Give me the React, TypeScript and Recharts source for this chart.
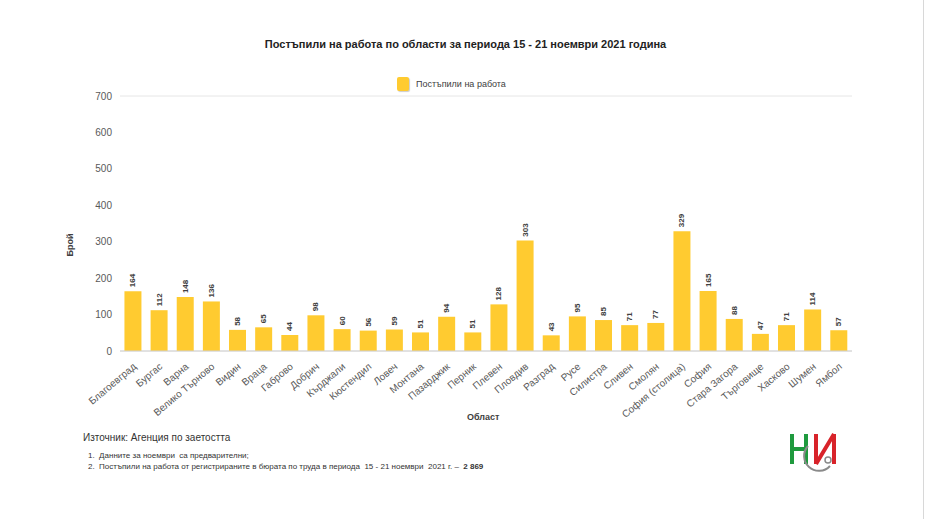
import React from 'react';
import { BarChart, Bar, XAxis, YAxis, CartesianGrid, LabelList } from 'recharts';

const regions = [
  'Благоевград', 'Бургас', 'Варна', 'Велико Търново', 'Видин', 'Враца', 'Габрово',
  'Добрич', 'Кърджали', 'Кюстендил', 'Ловеч', 'Монтана', 'Пазарджик', 'Перник',
  'Плевен', 'Пловдив', 'Разград', 'Русе', 'Силистра', 'Сливен', 'Смолян',
  'София (столица)', 'София', 'Стара Загора', 'Търговище', 'Хасково', 'Шумен', 'Ямбол',
];
const hired = [
  164, 112, 148, 136, 58, 65, 44, 98, 60, 56, 59, 51, 94, 51,
  128, 303, 43, 95, 85, 71, 77, 329, 165, 88, 47, 71, 114, 57,
];
const yTicks = [0, 100, 200, 300, 400, 500, 600, 700];

const data = regions.map((r, i) => ({ region: r, value: hired[i] }));

const FONT = '"Liberation Sans", Arial, sans-serif';
const BAR = '#FFCB30';
const GREY = '#595959';

// етикетите по оста X са завъртяни, края им е под чертичката
const XTick = (props: any) => {
  const { x, y, payload } = props;
  return (
    <g transform={`translate(${x},${y + 4})`}>
      <text
        transform="rotate(-40)"
        textAnchor="end"
        dy={6}
        fontSize={10}
        fill={GREY}
        fontFamily={FONT}
      >
        {payload.value}
      </text>
    </g>
  );
};

const ValueLabel = (props: any) => {
  const { x, y, width, value } = props;
  const cx = x + width / 2;
  const cy = y - 4;
  return (
    <text
      x={cx}
      y={cy}
      transform={`rotate(-90 ${cx} ${cy})`}
      textAnchor="start"
      dominantBaseline="central"
      fontSize={8}
      fontWeight={700}
      fill="#404040"
      fontFamily={FONT}
    >
      {value}
    </text>
  );
};

function Logo() {
  return (
    <svg width={60} height={44} viewBox="0 0 60 44" style={{ position: 'absolute', left: 786, top: 430 }}>
      <path d="M6 4 V34 M6 19 H20 M20 4 V34" stroke="#1f9a3e" strokeWidth={4} fill="none" />
      <path d="M30 34 V4 M30 34 L48 4 M48 4 V34" stroke="#d8232a" strokeWidth={4} fill="none" />
      <path d="M22 16 A14 14 0 1 0 44 36" stroke="#8a8a8a" strokeWidth={2} fill="none" />
      <circle cx={42} cy={30} r={3} stroke="#8a8a8a" strokeWidth={1.5} fill="#fff" />
    </svg>
  );
}

export default function App() {
  return (
    <div style={{ position: 'absolute', left: 0, top: 0, width: 931, height: 519, background: '#fff', fontFamily: FONT }}>
      <div style={{ position: 'absolute', left: 0, top: 38, width: 931, textAlign: 'center', fontSize: 11, fontWeight: 700, color: '#222' }}>
        Постъпили на работа по области за периода 15 - 21 ноември 2021 година
      </div>

      <div style={{ position: 'absolute', left: 397, top: 77, display: 'flex', alignItems: 'center' }}>
        <div style={{ width: 12, height: 14, background: BAR, borderRadius: 2, boxShadow: '1px 1px 1px rgba(0,0,0,0.2)' }} />
        <span style={{ marginLeft: 7, fontSize: 9, color: '#404040' }}>Постъпили на работа</span>
      </div>

      <BarChart
        width={931}
        height={519}
        data={data}
        margin={{ top: 96, right: 39, left: 80, bottom: 108 }}
        barCategoryGap="17%"
      >
        <CartesianGrid vertical={false} stroke="#e6e6e6" />
        <XAxis
          dataKey="region"
          interval={0}
          tickLine={false}
          axisLine={{ stroke: '#d0d0d0' }}
          tick={<XTick />}
          height={60}
        />
        <YAxis
          yAxisId="left"
          orientation="left"
          domain={[0, 700]}
          ticks={yTicks}
          axisLine={false}
          tickLine={false}
          width={40}
          tick={{ fontSize: 10, fill: GREY, fontFamily: FONT }}
        />
        <YAxis
          yAxisId="right"
          orientation="right"
          domain={[0, 700]}
          ticks={yTicks}
          axisLine={false}
          tickLine={false}
          width={40}
          tick={{ fontSize: 10, fill: GREY, fontFamily: FONT }}
        />
        <Bar dataKey="value" yAxisId="left" fill={BAR} isAnimationActive={false}>
          <LabelList dataKey="value" content={<ValueLabel />} />
        </Bar>
      </BarChart>

      <div style={{ position: 'absolute', left: 70, top: 245, transform: 'translate(-50%,-50%) rotate(-90deg)', fontSize: 9, fontWeight: 700, color: '#404040' }}>
        Брой
      </div>
      <div style={{ position: 'absolute', left: 467, top: 412, fontSize: 9, fontWeight: 700, color: '#404040' }}>
        Област
      </div>

      <div style={{ position: 'absolute', left: 83, top: 432, fontSize: 10, color: '#333' }}>
        Източник: Агенция по заетостта
      </div>
      <div style={{ position: 'absolute', left: 88, top: 451, fontSize: 8, color: '#333' }}>
        1.&nbsp;&nbsp;Данните за ноември&nbsp; са предварителни;
      </div>
      <div style={{ position: 'absolute', left: 88, top: 462, fontSize: 8, color: '#333' }}>
        2.&nbsp;&nbsp;Постъпили на работа от регистрираните в бюрата по труда в периода&nbsp; 15 - 21 ноември&nbsp; 2021 г. –&nbsp; <b>2 869</b>
      </div>

      <Logo />
      <div style={{ position: 'absolute', left: 923, top: 0, width: 1, height: 519, background: '#d8d8d8' }} />
    </div>
  );
}
